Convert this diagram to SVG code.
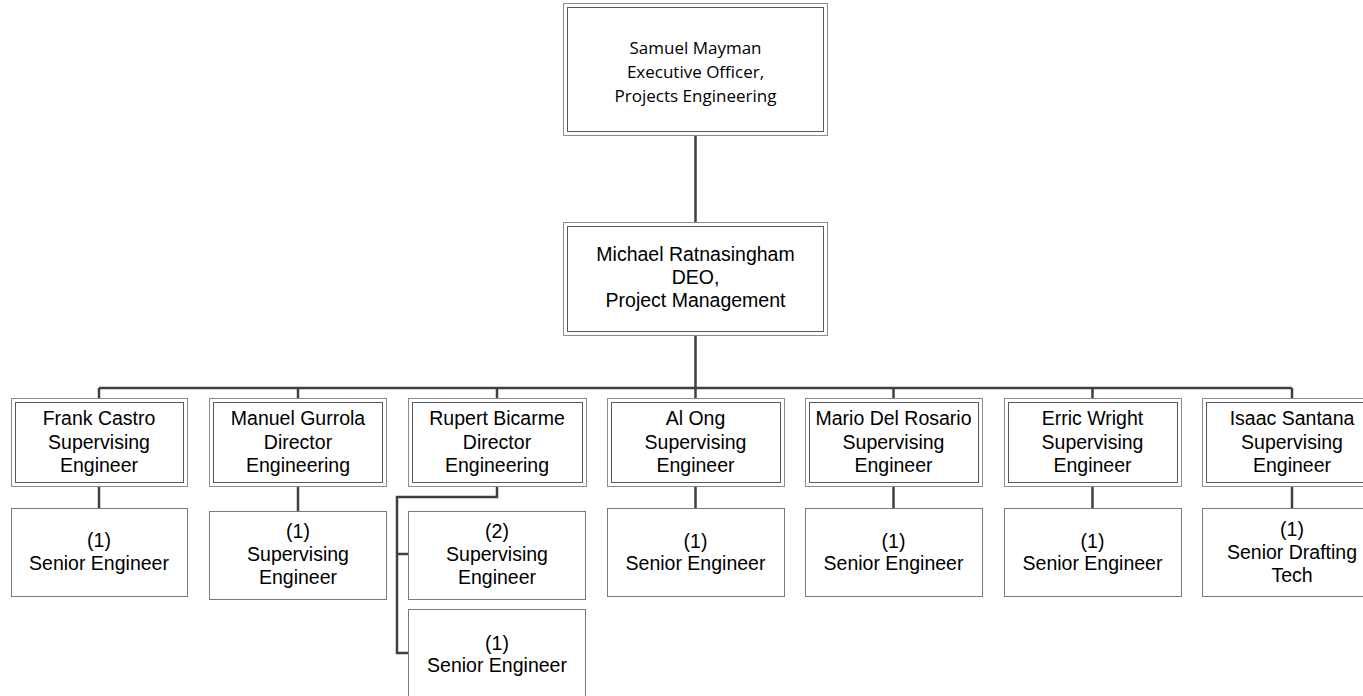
<svg xmlns="http://www.w3.org/2000/svg" width="1363" height="696" viewBox="0 0 1363 696">
<style>
.o{fill:#fff;stroke:#8c8c8c;stroke-width:1}
.i{fill:none;stroke:#595959;stroke-width:1}
.b{fill:#fff;stroke:#7a7a7a;stroke-width:1}
.t{font-family:"Liberation Sans",Arial,sans-serif;font-size:19.5px;fill:#000;text-anchor:middle}
.c{font-family:"Open Sans","Noto Sans",sans-serif;font-size:17px;fill:#000;text-anchor:middle}
.ln{fill:none;stroke:#404040;stroke-width:2.5}
</style>
<rect width="1363" height="696" fill="#fff"/>
<g id="connectors">
<path class="ln" d="M695.5 136V222M695.5 336V388M99 388H1292M99 388V398M298 388V398M497 388V398M695.5 388V398M893.5 388V398M1092.5 388V398M1292 388V398"/>
<path class="ln" d="M99 487V508M298 487V511M695.5 487V508M893.5 487V508M1092.5 487V508M1292 487V508"/>
<path class="ln" d="M497 487V497H397V653H408M397 554H408"/>
</g>
<g id="n-samuel">
<rect class="o" x="563.5" y="3.5" width="264" height="132"/>
<rect class="i" x="567.5" y="7.5" width="256" height="124"/>
<text class="c" x="695.5" y="54">Samuel Mayman</text>
<text class="c" x="695.5" y="78">Executive Officer,</text>
<text class="c" x="695.5" y="102">Projects Engineering</text>
</g>
<g id="n-michael">
<rect class="o" x="563.5" y="222.5" width="264" height="113"/>
<rect class="i" x="567.5" y="226.5" width="256" height="105"/>
<text class="t" x="695.5" y="261">Michael Ratnasingham</text>
<text class="t" x="695.5" y="284">DEO,</text>
<text class="t" x="695.5" y="307">Project Management</text>
</g>
<g id="n-frank">
<rect class="o" x="11.5" y="398.5" width="176" height="88"/>
<rect class="i" x="15.5" y="402.5" width="168" height="80"/>
<text class="t" x="99" y="425">Frank Castro</text>
<text class="t" x="99" y="448.5">Supervising</text>
<text class="t" x="99" y="472">Engineer</text>
</g>
<g id="n-manuel">
<rect class="o" x="209.5" y="398.5" width="177" height="88"/>
<rect class="i" x="213.5" y="402.5" width="169" height="80"/>
<text class="t" x="298" y="425">Manuel Gurrola</text>
<text class="t" x="298" y="448.5">Director</text>
<text class="t" x="298" y="472">Engineering</text>
</g>
<g id="n-rupert">
<rect class="o" x="408.5" y="398.5" width="178" height="88"/>
<rect class="i" x="412.5" y="402.5" width="170" height="80"/>
<text class="t" x="497" y="425">Rupert Bicarme</text>
<text class="t" x="497" y="448.5">Director</text>
<text class="t" x="497" y="472">Engineering</text>
</g>
<g id="n-along">
<rect class="o" x="607.5" y="398.5" width="177" height="88"/>
<rect class="i" x="611.5" y="402.5" width="169" height="80"/>
<text class="t" x="695.5" y="425">Al Ong</text>
<text class="t" x="695.5" y="448.5">Supervising</text>
<text class="t" x="695.5" y="472">Engineer</text>
</g>
<g id="n-mario">
<rect class="o" x="805.5" y="398.5" width="177" height="88"/>
<rect class="i" x="809.5" y="402.5" width="169" height="80"/>
<text class="t" x="893.5" y="425">Mario Del Rosario</text>
<text class="t" x="893.5" y="448.5">Supervising</text>
<text class="t" x="893.5" y="472">Engineer</text>
</g>
<g id="n-erric">
<rect class="o" x="1004.5" y="398.5" width="177" height="88"/>
<rect class="i" x="1008.5" y="402.5" width="169" height="80"/>
<text class="t" x="1092.5" y="425">Erric Wright</text>
<text class="t" x="1092.5" y="448.5">Supervising</text>
<text class="t" x="1092.5" y="472">Engineer</text>
</g>
<g id="n-isaac">
<rect class="o" x="1202.5" y="398.5" width="177" height="88"/>
<rect class="i" x="1206.5" y="402.5" width="169" height="80"/>
<text class="t" x="1292" y="425">Isaac Santana</text>
<text class="t" x="1292" y="448.5">Supervising</text>
<text class="t" x="1292" y="472">Engineer</text>
</g>
<g id="c-frank">
<rect class="b" x="11.5" y="508.5" width="176" height="88"/>
<text class="t" x="99" y="547">(1)</text>
<text class="t" x="99" y="570">Senior Engineer</text>
</g>
<g id="c-manuel">
<rect class="b" x="209.5" y="511.5" width="177" height="88"/>
<text class="t" x="298" y="538">(1)</text>
<text class="t" x="298" y="561">Supervising</text>
<text class="t" x="298" y="584">Engineer</text>
</g>
<g id="c-rupert-1">
<rect class="b" x="408.5" y="511.5" width="177" height="88"/>
<text class="t" x="497" y="538">(2)</text>
<text class="t" x="497" y="561">Supervising</text>
<text class="t" x="497" y="584">Engineer</text>
</g>
<g id="c-rupert-2">
<rect class="b" x="408.5" y="609.5" width="177" height="90"/>
<text class="t" x="497" y="650">(1)</text>
<text class="t" x="497" y="672">Senior Engineer</text>
</g>
<g id="c-along">
<rect class="b" x="607.5" y="508.5" width="177" height="88"/>
<text class="t" x="695.5" y="548">(1)</text>
<text class="t" x="695.5" y="570">Senior Engineer</text>
</g>
<g id="c-mario">
<rect class="b" x="805.5" y="508.5" width="177" height="88"/>
<text class="t" x="893.5" y="548">(1)</text>
<text class="t" x="893.5" y="570">Senior Engineer</text>
</g>
<g id="c-erric">
<rect class="b" x="1004.5" y="508.5" width="177" height="88"/>
<text class="t" x="1092.5" y="548">(1)</text>
<text class="t" x="1092.5" y="570">Senior Engineer</text>
</g>
<g id="c-isaac">
<rect class="b" x="1202.5" y="508.5" width="177" height="88"/>
<text class="t" x="1292" y="536">(1)</text>
<text class="t" x="1292" y="559">Senior Drafting</text>
<text class="t" x="1292" y="582">Tech</text>
</g>
</svg>
